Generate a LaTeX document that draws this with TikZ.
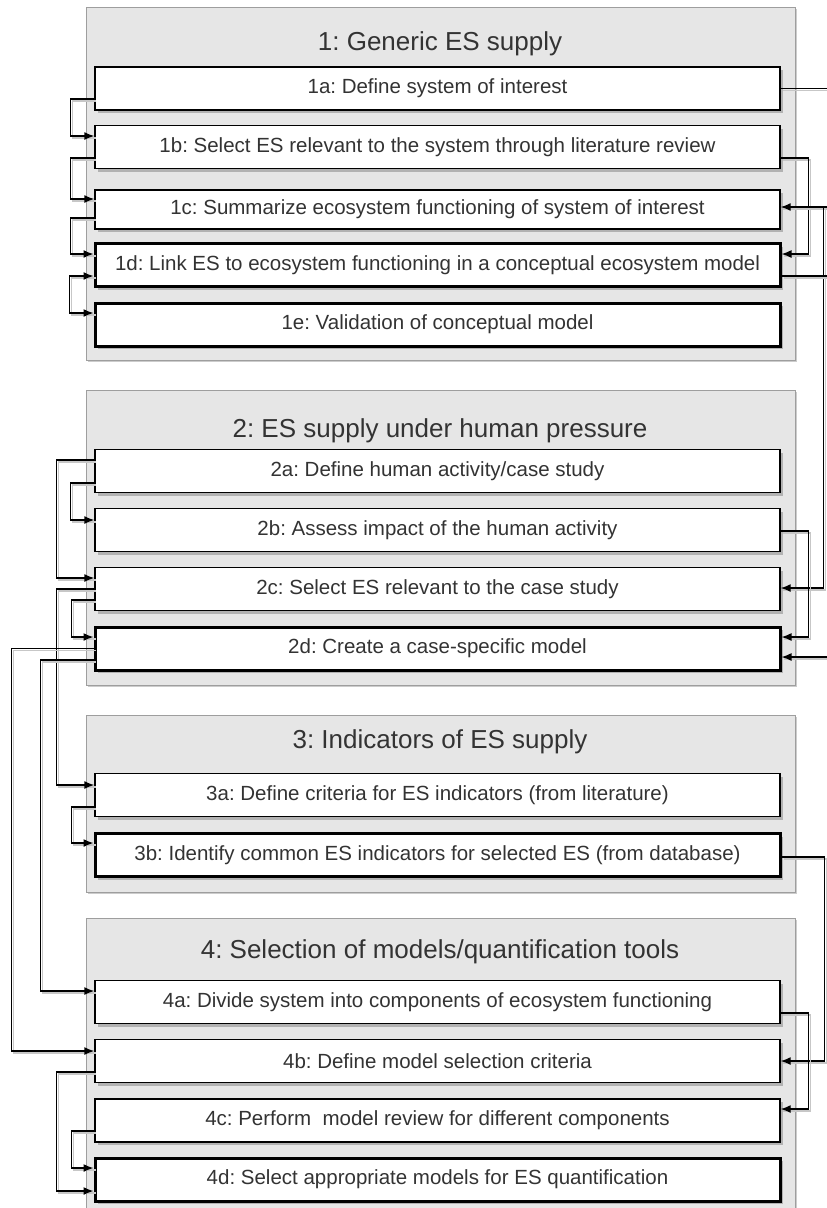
\documentclass[tikz,border=0pt]{standalone}
\usepackage{fontspec}
\setmainfont{Liberation Sans}
\usetikzlibrary{arrows.meta}
\usetikzlibrary{calc}
\usetikzlibrary{shadows}
\frenchspacing

\definecolor{groupfill}{HTML}{E6E6E6}
\definecolor{groupline}{HTML}{9E9E9E}
\definecolor{textgray}{HTML}{333333}

\begin{document}
\begin{tikzpicture}[x=1pt, y=-1pt,
  line/.style={line width=1.4pt, >={Latex[length=10pt,width=8pt]},
    preaction={draw=black!22, line width=1.4pt, -, transform canvas={shift={(2pt,-2pt)}}}},
  group/.style={draw=groupline, fill=groupfill, line width=1pt,
    drop shadow={shadow xshift=2pt, shadow yshift=-2pt, fill=black!20, opacity=1}},
  task/.style={draw, fill=white, line width=1.4pt, minimum width=685pt, minimum height=43pt,
    inner sep=0pt, text=textgray, font=\fontsize{20.5}{24}\selectfont,
    drop shadow={shadow xshift=3pt, shadow yshift=-3pt, fill=black!30, opacity=1}},
  final/.style={task, line width=3pt},
  title/.style={anchor=base, text=textgray, font=\fontsize{26}{30}\selectfont}]
\useasboundingbox (0,0) rectangle (827,1208);
\clip (0,0) rectangle (827,1208);

% groups
\draw[group] (86,7) rectangle (795,360);
\draw[group] (86,390) rectangle (795,685);
\draw[group] (86,715) rectangle (795,892);
\draw[group] (86,918) rectangle (795,1225);

\node[title] (h1) at (440,50) {1: Generic ES supply};
\node[title] (h2) at (440,437) {2: ES supply under human pressure};
\node[title] (h3) at (440,748) {3: Indicators of ES supply};
\node[title] (h4) at (440,958) {4: Selection of models/quantification tools};

% tasks
\node[task] (t1a) at (437.5,88.5) {1a: Define system of interest};
\node[task] (t1b) at (437.5,147) {1b: Select ES relevant to the system through literature review};
\node[task, minimum height=39pt] (t1c) at (437.5,209.5) {1c: Summarize ecosystem functioning of system of interest};
\node[final] (t1d) at (437.5,265) {1d: Link ES to ecosystem functioning in a conceptual ecosystem model};
\node[final] (t1e) at (437.5,324.5) {1e: Validation of conceptual model};

\node[task] (t2a) at (437.5,471) {2a: Define human activity/case study};
\node[task] (t2b) at (437.5,530) {2b: Assess impact of the human activity};
\node[task] (t2c) at (437.5,589) {2c: Select ES relevant to the case study};
\node[final] (t2d) at (437.5,648.5) {2d: Create a case-specific model};

\node[task] (t3a) at (437.5,795) {3a: Define criteria for ES indicators (from literature)};
\node[final] (t3b) at (437.5,855) {3b: Identify common ES indicators for selected ES (from database)};

\node[task] (t4a) at (437.5,1002) {4a: Divide system into components of ecosystem functioning};
\node[task] (t4b) at (437.5,1061) {4b: Define model selection criteria};
\node[task] (t4c) at (437.5,1120.5) {4c: Perform~ model review for different components};
\node[final] (t4d) at (437.5,1179.5) {4d: Select appropriate models for ES quantification};

% left-hand links
\draw[line, ->] ([yshift=-10.5pt]t1a.west) -- ++(-24,0) |- ([yshift=11pt]t1b.west);
\draw[line, ->] ([yshift=-11pt]t1b.west) -- ++(-24,0) |- ([yshift=10.5pt]t1c.west);
\draw[line, ->] ([yshift=-8.5pt]t1c.west) -- ++(-24,0) |- ([yshift=11pt]t1d.west);
\draw[line, <->] ([yshift=-11pt]t1d.west) -- ++(-24,0) |- ([yshift=11.5pt]t1e.west);

\draw[line, ->] ([yshift=-12pt]t2a.west) -- ++(-24,0) |- ([yshift=10pt]t2b.west);
\draw[line, ->] ([yshift=11pt]t2a.west) -- ++(-38,0) |- ([yshift=11pt]t2c.west);
\draw[line, ->] ([yshift=-11pt]t2c.west) -- ++(-23,0) |- ([yshift=11.5pt]t2d.west);
\draw[line, ->] (t2c.west) -- ++(-38,0) |- ([yshift=10pt]t3a.west);
\draw[line, ->] ([yshift=-11.5pt]t2d.west) -- ++(-53,0) |- ([yshift=11pt]t4a.west);
\draw[line, ->] (t2d.west) -- ++(-82,0) |- ([yshift=10pt]t4b.west);

\draw[line, ->] ([yshift=-12pt]t3a.west) -- ++(-23,0) |- ([yshift=12pt]t3b.west);

\draw[line, ->] ([yshift=-11pt]t4b.west) -- ++(-38,0) |- ([yshift=-11.5pt]t4d.west);
\draw[line, ->] ([yshift=-10.5pt]t4c.west) -- ++(-23,0) |- ([yshift=11.5pt]t4d.west);

% right-hand links
\draw[line, ->] ([yshift=-11pt]t1b.east) -- ++(28,0) |- ([yshift=11pt]t1d.east);
\draw[line, ->] (t1a.east) -- ++(60,0) |- ([yshift=2.5pt]t1c.east);
\draw[line, ->] ([yshift=2.5pt]t1c.east) ++(43,0) |- ([yshift=1pt]t2c.east);
\draw[line, ->] ([yshift=-11pt]t1d.east) -- ++(60,0) |- ([yshift=-8.5pt]t2d.east);
\draw[line, ->] ([yshift=-1pt]t2b.east) -- ++(28,0) |- ([yshift=11.5pt]t2d.east);
\draw[line, ->] ([yshift=-2pt]t3b.east) -- ++(43,0) |- (t4b.east);
\draw[line, ->] ([yshift=-11pt]t4a.east) -- ++(28,0) |- ([yshift=11.5pt]t4c.east);
\end{tikzpicture}
\end{document}
